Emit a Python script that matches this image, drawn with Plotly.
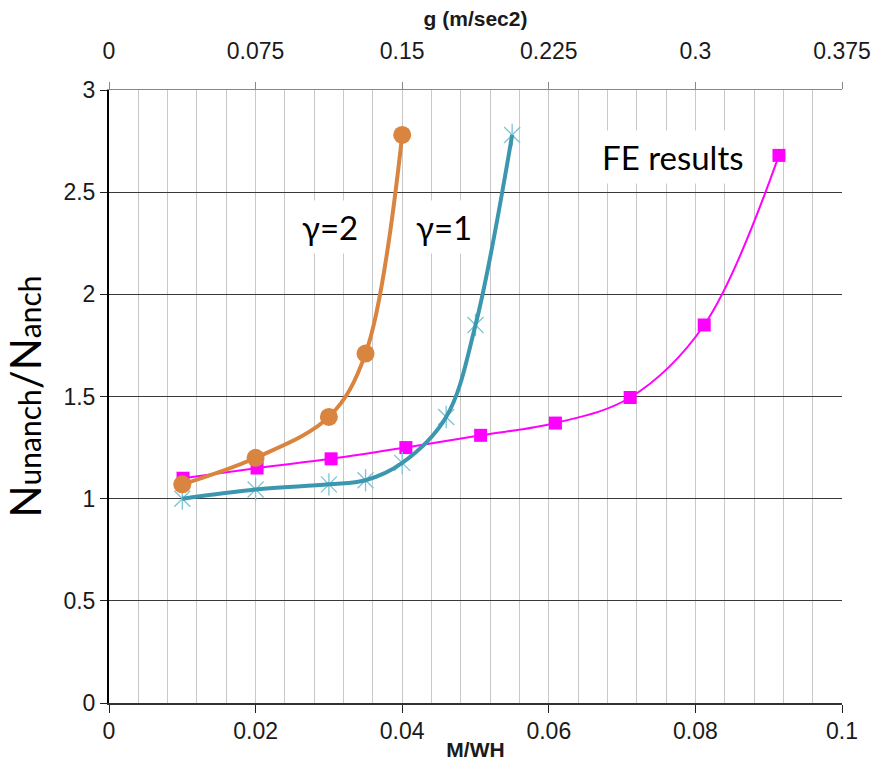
import plotly.graph_objects as go

# Ratio N_unanch / N_anch versus M/WH
gamma2_x = [0.01, 0.02, 0.03, 0.035, 0.04]
gamma2_y = [1.07, 1.20, 1.40, 1.71, 2.78]

gamma1_x = [0.01, 0.02, 0.03, 0.035, 0.04, 0.046, 0.05, 0.055]
gamma1_y = [1.00, 1.045, 1.07, 1.09, 1.175, 1.40, 1.85, 2.78]

fe_x = [0.0101, 0.0202, 0.0303, 0.0405, 0.0507, 0.0609, 0.0711, 0.0812, 0.0914]
fe_y = [1.10, 1.15, 1.195, 1.25, 1.31, 1.37, 1.495, 1.85, 2.68]

bottom_ticks = [0, 0.02, 0.04, 0.06, 0.08, 0.1]
bottom_labels = ["0", "0.02", "0.04", "0.06", "0.08", "0.1"]
top_ticks = [0, 0.075, 0.15, 0.225, 0.3, 0.375]
top_labels = ["0", "0.075", "0.15", "0.225", "0.3", "0.375"]
y_ticks = [0, 0.5, 1, 1.5, 2, 2.5, 3]
y_labels = ["0", "0.5", "1", "1.5", "2", "2.5", "3"]

ORANGE = "#D9843F"
TEAL = "#3B97AF"
TEAL_LIGHT = "#7CC3D6"
MAGENTA = "#FF00FF"

fig = go.Figure()

fig.add_trace(go.Scatter(
    x=fe_x, y=fe_y, mode="lines+markers",
    line=dict(color=MAGENTA, width=2, shape="spline", smoothing=1),
    marker=dict(symbol="square", size=13, color=MAGENTA),
    showlegend=False, hoverinfo="skip"))

# star markers for gamma = 1: an X plus a vertical stroke
for sym in ["x-thin-open", "line-ns-open"]:
    fig.add_trace(go.Scatter(
        x=gamma1_x, y=gamma1_y, mode="markers",
        marker=dict(symbol=sym, size=16, color=TEAL_LIGHT,
                    line=dict(color=TEAL_LIGHT, width=1.3)),
        showlegend=False, hoverinfo="skip"))
fig.add_trace(go.Scatter(
    x=gamma1_x, y=gamma1_y, mode="lines",
    line=dict(color=TEAL, width=4, shape="spline", smoothing=1),
    showlegend=False, hoverinfo="skip"))

fig.add_trace(go.Scatter(
    x=gamma2_x, y=gamma2_y, mode="lines+markers",
    line=dict(color=ORANGE, width=4, shape="spline", smoothing=1),
    marker=dict(symbol="circle", size=18, color=ORANGE),
    showlegend=False, hoverinfo="skip"))

# empty trace to bring up the secondary (top) axis
fig.add_trace(go.Scatter(x=[], y=[], xaxis="x2", showlegend=False))

tick_font = dict(family="Liberation Sans, Arial, sans-serif", size=23, color="#1a1a1a")
title_font = dict(family="Liberation Sans, Arial, sans-serif", size=21, color="#1a1a1a")
label_font = dict(family="Lato, Calibri, sans-serif", size=33, color="black")

fig.update_layout(
    width=883, height=773,
    margin=dict(l=109, r=32, t=90, b=70),
    paper_bgcolor="white", plot_bgcolor="white",
    xaxis=dict(
        range=[0, 0.1], tickvals=bottom_ticks, ticktext=bottom_labels,
        tickfont=tick_font, ticks="outside", ticklen=8, tickcolor="#222",
        ticklabelstandoff=-2,
        showline=True, linecolor="#333", linewidth=2,
        showgrid=True, gridcolor="#C8C8C8", gridwidth=1,
        minor=dict(dtick=0.004, showgrid=True, gridcolor="#C8C8C8", gridwidth=1),
        zeroline=False,
        title=dict(text="<b>M/WH</b>", standoff=0, font=title_font),
    ),
    xaxis2=dict(
        overlaying="x", side="top", range=[0, 0.375],
        tickvals=top_ticks, ticktext=top_labels, tickfont=tick_font,
        ticks="outside", ticklen=7, tickcolor="#888",
        ticklabelstandoff=14,
        showline=True, linecolor="#888", linewidth=1,
        showgrid=False, zeroline=False,
        title=dict(text="<b>g (m/sec2)</b>", standoff=5, font=title_font),
    ),
    yaxis=dict(
        range=[0, 3], tickvals=y_ticks, ticktext=y_labels,
        tickfont=tick_font, ticks="outside", ticklen=7, tickcolor="#222",
        showline=True, linecolor="black", linewidth=2,
        showgrid=True, gridcolor="#3a3a3a", gridwidth=1.2,
        zeroline=False,
        title=dict(
            text="N<span style='font-size:30px'>unanch</span>/N<span style='font-size:30px'>anch</span>",
            standoff=10, font=dict(family="Lato, Calibri, sans-serif", size=42, color="black")),
    ),
)

# label boxes
for txt, ax, ay in [("γ=2", 0.0302, 2.33), ("γ=1", 0.0457, 2.33), ("FE results", 0.077, 2.67)]:
    fig.add_annotation(x=ax, y=ay, xref="x", yref="y", text=txt, showarrow=False,
                       font=label_font, bgcolor="white", borderpad=6)

fig.write_html("out.html")
